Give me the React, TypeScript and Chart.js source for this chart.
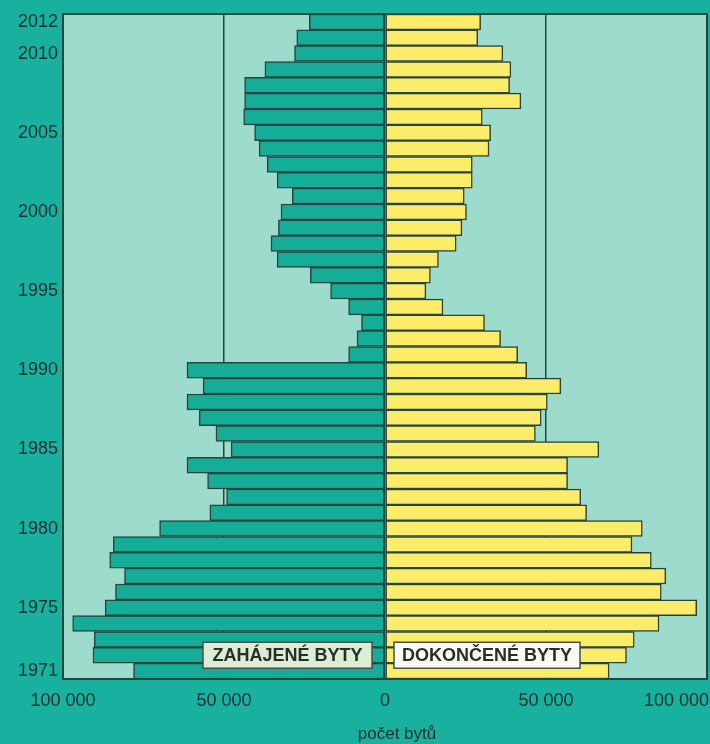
import React, { useEffect, useRef } from 'react';
import { Chart, registerables } from 'chart.js';

Chart.register(...registerables);

const years = [
  '1971', '1972', '1973', '1974', '1975', '1976', '1977', '1978', '1979', '1980',
  '1981', '1982', '1983', '1984', '1985', '1986', '1987', '1988', '1989', '1990',
  '1991', '1992', '1993', '1994', '1995', '1996', '1997', '1998', '1999', '2000',
  '2001', '2002', '2003', '2004', '2005', '2006', '2007', '2008', '2009', '2010',
  '2011', '2012',
];
const shownYears = ['1971', '1975', '1980', '1985', '1990', '1995', '2000', '2005', '2010', '2012'];

// Zahájené byty (started dwellings)
const started = [
  78100, 90700, 90300, 97000, 86900, 83700, 80900, 85500, 84400, 70000,
  54400, 49200, 55100, 61500, 47800, 52500, 57700, 61500, 56500, 61500,
  11300, 8700, 7300, 11300, 16900, 23200, 33500, 35400, 33100, 32300,
  28800, 33500, 36600, 39100, 40500, 43900, 43600, 43600, 37300, 28100,
  27400, 23500,
];

// Dokončené byty (completed dwellings)
const completed = [
  69600, 75000, 77400, 85100, 96800, 85800, 87200, 82700, 76700, 79900,
  62600, 60800, 56700, 56700, 66400, 46700, 48500, 50400, 54600, 44000,
  41200, 35900, 30900, 18000, 12700, 14100, 16600, 22100, 23900, 25300,
  24600, 27100, 27100, 32300, 32800, 30200, 42200, 38700, 39100, 36600,
  28800, 29700,
];

const xTickValues = [-100000, -50000, 0, 50000, 100000];
const legendStarted = 'ZAHÁJENÉ BYTY';
const legendCompleted = 'DOKONČENÉ BYTY';
const axisTitle = 'počet bytů';

const PAGE_BG = '#18b19f';
const PLOT_BG = '#9ddccc';
const TEAL = '#15ad98';
const YELLOW = '#fbed6a';
const EDGE = '#27453e';
const TEXT = '#1c2f2c';
const FONT = "'Liberation Sans', Arial, sans-serif";

const fmt = (n: number) => String(Math.abs(n)).replace(/\B(?=(\d{3})+(?!\d))/g, ' ');

export default function App() {
  const ref = useRef<HTMLCanvasElement | null>(null);

  useEffect(() => {
    const canvas = ref.current;
    if (!canvas) return;

    const decor = {
      id: 'decor',
      beforeDraw(chart: any) {
        const { ctx, chartArea: a } = chart;
        ctx.save();
        ctx.fillStyle = PAGE_BG;
        ctx.fillRect(0, 0, chart.width, chart.height);
        ctx.fillStyle = PLOT_BG;
        ctx.fillRect(a.left, a.top, a.right - a.left, a.bottom - a.top);
        ctx.restore();
      },
      afterDraw(chart: any) {
        const { ctx, chartArea: a } = chart;
        const xs = chart.scales.x;
        const ys = chart.scales.y;
        ctx.save();
        // frame
        ctx.strokeStyle = EDGE;
        ctx.lineWidth = 2;
        ctx.strokeRect(a.left, a.top, a.right - a.left, a.bottom - a.top);

        // right-most tick label, kept inside the canvas
        ctx.fillStyle = TEXT;
        ctx.font = `18px ${FONT}`;
        ctx.textAlign = 'right';
        ctx.textBaseline = 'middle';
        ctx.fillText(fmt(xTickValues[xTickValues.length - 1]), chart.width - 1, 701);

        // axis title
        ctx.textAlign = 'center';
        ctx.font = `17px ${FONT}`;
        ctx.fillText(axisTitle, xs.getPixelForValue(0) + 12, 734);

        // legend boxes
        const zero = xs.getPixelForValue(0);
        const cy = ys.getPixelForValue(1);
        const h = 26;
        const boxes = [
          { x: zero - 182, w: 169, fill: '#d9eed4', text: legendStarted },
          { x: zero + 9, w: 186, fill: '#fafaf0', text: legendCompleted },
        ];
        ctx.font = `bold 18px ${FONT}`;
        ctx.lineWidth = 1.5;
        boxes.forEach((b) => {
          ctx.fillStyle = b.fill;
          ctx.fillRect(b.x, cy - h / 2, b.w, h);
          ctx.strokeStyle = '#4a4f4a';
          ctx.strokeRect(b.x, cy - h / 2, b.w, h);
          ctx.fillStyle = '#2a2d2a';
          ctx.textAlign = 'center';
          ctx.textBaseline = 'middle';
          ctx.fillText(b.text, b.x + b.w / 2, cy + 1);
        });
        ctx.restore();
      },
    };

    const chart = new Chart(canvas, {
      type: 'bar',
      data: {
        labels: years,
        datasets: [
          {
            label: legendStarted,
            data: started.map((v) => -v),
            backgroundColor: TEAL,
            borderColor: EDGE,
            borderWidth: 1.5,
            borderSkipped: false,
            barPercentage: 1,
            categoryPercentage: 1,
          },
          {
            label: legendCompleted,
            data: completed,
            backgroundColor: YELLOW,
            borderColor: EDGE,
            borderWidth: 1.5,
            borderSkipped: false,
            barPercentage: 1,
            categoryPercentage: 1,
          },
        ],
      },
      options: {
        indexAxis: 'y',
        responsive: false,
        animation: false,
        devicePixelRatio: 1,
        layout: { padding: { top: 14, right: 3, left: 0, bottom: 0 } },
        plugins: {
          legend: { display: false },
          tooltip: { enabled: false },
          title: { display: false },
        },
        scales: {
          x: {
            type: 'linear',
            stacked: true,
            min: -100000,
            max: 100000,
            afterBuildTicks: (s: any) => {
              s.ticks = xTickValues.map((v) => ({ value: v }));
            },
            afterFit: (s: any) => {
              s.height = 65;
              s.paddingLeft = 0;
              s.paddingRight = 0;
            },
            ticks: {
              padding: 11,
              color: TEXT,
              font: { family: FONT, size: 18 },
              maxRotation: 0,
              autoSkip: false,
              callback: (v: any) => (Number(v) === 100000 ? '' : fmt(Number(v))),
            },
            grid: {
              drawTicks: false,
              color: (c: any) =>
                c.tick && (c.tick.value === 0 || Math.abs(c.tick.value) === 50000) ? EDGE : 'rgba(0,0,0,0)',
              lineWidth: 1.5,
            },
            border: { display: true, color: EDGE, width: 2 },
          },
          y: {
            type: 'category',
            stacked: true,
            reverse: true,
            afterFit: (s: any) => {
              s.width = 63;
              s.paddingTop = 0;
              s.paddingBottom = 0;
            },
            ticks: {
              padding: 5,
              color: TEXT,
              autoSkip: false,
              font: { family: FONT, size: 18 },
              callback: function (this: any, v: any) {
                const lab = years[Number(v)];
                return shownYears.includes(lab) ? lab : '';
              },
            },
            grid: { display: false, drawTicks: false },
            border: { display: true, color: EDGE, width: 2 },
          },
        },
      },
      plugins: [decor],
    });

    return () => chart.destroy();
  }, []);

  return (
    <div style={{ position: 'fixed', left: 0, top: 0, width: 710, height: 744, background: PAGE_BG }}>
      <canvas ref={ref} width={710} height={744} style={{ display: 'block', width: 710, height: 744 }} />
    </div>
  );
}
